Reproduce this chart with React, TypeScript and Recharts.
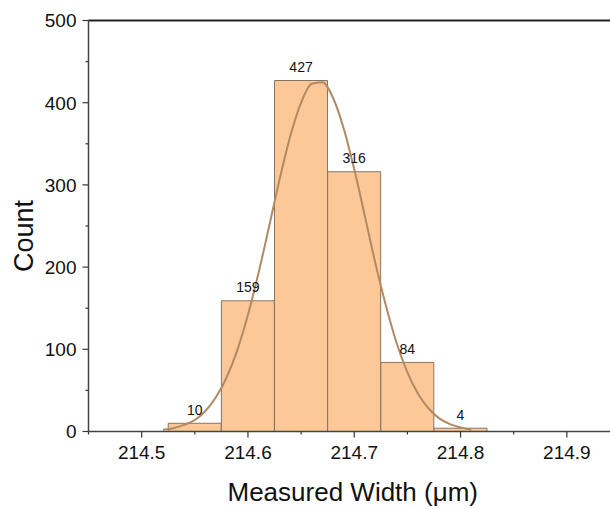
import React from "react";
import {
  ComposedChart,
  Bar,
  Line,
  XAxis,
  YAxis,
  LabelList,
  Label,
  ReferenceLine,
} from "recharts";

// histogram bins (centres) and counts
const binCenters = [214.55, 214.6, 214.65, 214.7, 214.75, 214.8];
const counts = [10, 159, 427, 316, 84, 4];

// fitted curve
const fitX = [
  214.52, 214.53, 214.54, 214.55, 214.56, 214.57, 214.58, 214.59, 214.6, 214.61,
  214.62, 214.63, 214.64, 214.65, 214.66, 214.67, 214.68, 214.69, 214.7, 214.71,
  214.72, 214.73, 214.74, 214.75, 214.76, 214.77, 214.78, 214.79, 214.8, 214.81,
];
const fitY = [
  2, 4, 8, 14, 25, 42, 66, 99, 142, 193,
  250, 308, 360, 400, 423, 425, 406, 369, 319, 262,
  204, 152, 107, 72, 46, 28, 16, 9, 5, 2,
];

const xTicks = [214.45, 214.5, 214.55, 214.6, 214.65, 214.7, 214.75, 214.8, 214.85, 214.9, 214.95];
const xMajor = [214.5, 214.6, 214.7, 214.8, 214.9];
const yTicks = [0, 50, 100, 150, 200, 250, 300, 350, 400, 450, 500];
const yMajor = [0, 100, 200, 300, 400, 500];

const barData = binCenters.map((x, i) => ({ x, count: counts[i] }));
const fitData = fitX.map((x, i) => ({ x, y: fitY[i] }));

const FONT = "'Liberation Sans', Arial, sans-serif";

const XTick = (props: any) => {
  const { x, y, payload } = props;
  const v = payload.value;
  const major = xMajor.some((m) => Math.abs(m - v) < 1e-6);
  return (
    <g>
      <line x1={x} y1={y} x2={x} y2={y + (major ? 6 : 3)} stroke="#333" strokeWidth={1.2} />
      {major && (
        <text x={x} y={y + 27} textAnchor="middle" fontSize={19} fill="#111" fontFamily={FONT}>
          {v.toFixed(1)}
        </text>
      )}
    </g>
  );
};

const YTick = (props: any) => {
  const { x, y, payload } = props;
  const v = payload.value;
  const major = yMajor.includes(v);
  return (
    <g>
      <line x1={x} y1={y} x2={x - (major ? 6 : 3)} y2={y} stroke="#333" strokeWidth={1.2} />
      {major && (
        <text x={x - 12} y={y} dy="0.36em" textAnchor="end" fontSize={19} fill="#111" fontFamily={FONT}>
          {v}
        </text>
      )}
    </g>
  );
};

export default function App() {
  return (
    <div
      style={{
        position: "absolute",
        left: 0,
        top: 0,
        width: 610,
        height: 509,
        overflow: "hidden",
        background: "#fff",
        fontFamily: FONT,
      }}
    >
      <ComposedChart
        width={640}
        height={509}
        data={barData}
        margin={{ top: 20.5, right: 20, bottom: 47.5, left: 0 }}
      >
        <XAxis
          dataKey="x"
          type="number"
          domain={[214.45, 214.95]}
          ticks={xTicks}
          interval={0}
          allowDataOverflow
          tick={<XTick />}
          tickLine={false}
          tickSize={0}
          tickMargin={0}
          height={30}
          axisLine={{ stroke: "#444", strokeWidth: 1.5 }}
        >
          <Label
            value="Measured Width (μm)"
            position="center"
            dx={-1.5}
            dy={45}
            fontSize={26}
            fill="#111"
            fontFamily={FONT}
          />
        </XAxis>
        <XAxis
          xAxisId="fit"
          dataKey="x"
          type="number"
          domain={[214.45, 214.95]}
          allowDataOverflow
          hide
        />
        <YAxis
          type="number"
          domain={[0, 500]}
          ticks={yTicks}
          interval={0}
          width={88.5}
          tick={<YTick />}
          tickLine={false}
          tickSize={0}
          tickMargin={0}
          axisLine={{ stroke: "#444", strokeWidth: 1.5 }}
        >
          <Label
            value="Count"
            angle={-90}
            position="center"
            dx={-21}
            dy={10}
            fontSize={27}
            fill="#111"
            fontFamily={FONT}
          />
        </YAxis>
        <ReferenceLine y={500} stroke="#222" strokeWidth={2} />
        <Bar
          dataKey="count"
          barSize={53}
          fill="#FDC898"
          stroke="#857565"
          strokeWidth={1}
          isAnimationActive={false}
        >
          <LabelList dataKey="count" position="top" offset={8.5} fontSize={14} fill="#111" fontFamily={FONT} />
        </Bar>
        <Line
          xAxisId="fit"
          data={fitData}
          dataKey="y"
          type="monotone"
          stroke="#B08A64"
          strokeWidth={2}
          dot={false}
          isAnimationActive={false}
        />
      </ComposedChart>
    </div>
  );
}
